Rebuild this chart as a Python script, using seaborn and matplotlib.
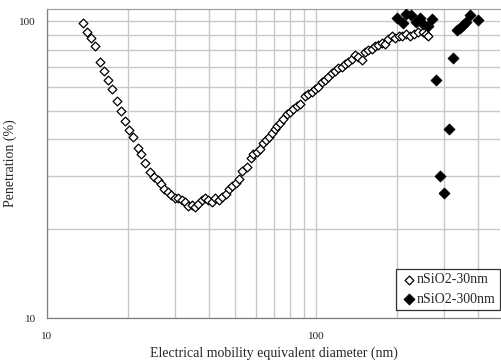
import matplotlib
matplotlib.use("Agg")
import matplotlib.pyplot as plt
import seaborn as sns
import pandas as pd
from matplotlib.ticker import LogLocator, FixedLocator, NullFormatter, FixedFormatter

# nSiO2-30nm : electrical mobility diameter (nm) and penetration (%)
d30 = [13.57, 14.04, 14.54, 15.08, 15.74, 16.29, 16.86, 17.45, 18.16, 18.79,
       19.55, 20.23, 20.94, 21.74, 22.42, 23.20, 24.15, 25.05, 25.79, 26.53,
       27.30, 28.10, 28.91, 29.92, 30.78, 31.68, 32.59, 33.53, 34.51, 35.49,
       36.52, 37.59, 38.67, 39.78, 40.96, 42.13, 43.59, 44.84, 46.16, 47.48,
       48.84, 50.29, 51.73, 53.21, 55.26, 57.18, 58.47, 60.20, 61.92, 63.38,
       65.18, 67.05, 68.61, 70.22, 71.80, 73.49, 75.20, 77.83, 80.05, 82.35,
       85.22, 87.21, 91.04, 93.63, 96.38, 99.15, 101.99, 104.99, 108.0, 111.1,
       114.4, 117.7, 121.1, 124.6, 128.2, 131.8, 135.7, 139.6, 143.6, 147.9,
       152.1, 156.4, 161.1, 165.7, 170.4, 175.5, 180.5, 185.7, 191.2, 196.7,
       202.7, 208.9, 216.1, 223.6, 231.4, 240.1, 249.3, 256.4, 261.5]
p30 = [99.0, 92.3, 87.7, 82.4, 72.8, 67.9, 63.3, 59.0, 53.8, 50.0,
       46.3, 43.0, 40.8, 37.3, 35.7, 33.4, 31.1, 29.9, 29.1, 28.2,
       27.3, 26.6, 25.9, 25.3, 25.3, 24.97, 24.6, 23.9, 24.1, 23.7,
       24.3, 24.97, 25.3, 24.97, 24.6, 25.3, 24.97, 25.6, 26.1, 27.3,
       27.9, 28.4, 29.4, 31.3, 32.2, 34.5, 35.7, 36.3, 37.0, 38.9,
       39.7, 40.8, 41.9, 43.5, 44.3, 45.5, 47.0, 48.6, 49.5, 50.8,
       51.7, 52.5, 55.9, 56.8, 57.8, 58.9, 60.1, 62.5, 63.3, 64.9,
       66.7, 68.0, 69.7, 70.2, 71.6, 72.9, 74.9, 76.8, 75.8, 73.9,
       78.8, 80.3, 80.9, 82.4, 83.0, 84.5, 84.1, 87.4, 89.0, 87.7,
       89.4, 89.0, 90.4, 89.4, 90.8, 91.8, 92.2, 90.8, 89.4]

# nSiO2-300nm
d300 = [200.5, 210.1, 216.1, 224.9, 234.4, 242.6, 250.9, 259.7, 269.2, 279.3,
        289.1, 299.1, 312.2, 322.3, 333.5, 343.1, 352.0, 361.2, 373.8, 399.2]
p300 = [102.6, 98.8, 106.0, 104.8, 99.2, 102.7, 97.7, 96.6, 102.1, 63.3,
        30.2, 26.3, 43.5, 75.2, 93.3, 94.7, 97.3, 99.6, 104.8, 100.8]

x_ticks = [10, 100]
y_ticks = [10, 100]
x_tick_labels = ["10", "100"]
y_tick_labels = ["10", "100"]
label_30 = "nSiO2-30nm"
label_300 = "nSiO2-300nm"
x_title = "Electrical mobility equivalent diameter (nm)"
y_title = "Penetration (%)"

df30 = pd.DataFrame({"d": d30, "p": p30})
df300 = pd.DataFrame({"d": d300, "p": p300})

sns.set_style("white")
plt.rcParams["font.family"] = ["Liberation Serif", "DejaVu Serif"]

fig = plt.figure(figsize=(5.01, 3.60), dpi=100)
ax = fig.add_axes([47 / 501, 1 - 318 / 360, 453 / 501, 309 / 360])

sns.scatterplot(data=df30, x="d", y="p", marker="D", s=20, facecolor="white",
                edgecolor="black", linewidth=0.9, label=label_30, ax=ax, zorder=3)
sns.scatterplot(data=df300, x="d", y="p", marker="D", s=32, color="black",
                edgecolor="black", linewidth=0.5, label=label_300, ax=ax, zorder=4)

ax.set_xscale("log")
ax.set_yscale("log")
ax.set_xlim(10, 483)
ax.set_ylim(10, 110)

ax.xaxis.set_major_locator(FixedLocator(x_ticks))
ax.xaxis.set_major_formatter(FixedFormatter(x_tick_labels))
ax.yaxis.set_major_locator(FixedLocator(y_ticks))
ax.yaxis.set_major_formatter(FixedFormatter(y_tick_labels))
ax.xaxis.set_minor_locator(LogLocator(base=10, subs=range(2, 10)))
ax.yaxis.set_minor_locator(LogLocator(base=10, subs=range(2, 10)))
ax.xaxis.set_minor_formatter(NullFormatter())
ax.yaxis.set_minor_formatter(NullFormatter())

ax.grid(True, which="both", color="#c8c8c8", linewidth=1.0)
ax.set_axisbelow(True)
ax.tick_params(which="major", length=4, width=0.8, color="#808080",
               labelsize=8)
ax.tick_params(axis="x", which="major", pad=6)
ax.tick_params(axis="y", which="major", pad=4)
ax.tick_params(which="minor", length=0)

ax.spines["right"].set_visible(False)
ax.spines["top"].set_color("#a0a0a0")
ax.spines["left"].set_color("#808080")
ax.spines["bottom"].set_color("#808080")
for s in ax.spines.values():
    s.set_linewidth(0.9)

ax.set_xlabel(x_title, fontsize=10, labelpad=4)
ax.set_ylabel(y_title, fontsize=10)
ax.yaxis.set_label_coords(-0.066, 0.5)

leg = ax.legend(loc="lower right", bbox_to_anchor=(1.0, 0.025), fontsize=10,
                frameon=True, fancybox=False, edgecolor="black",
                handletextpad=0.0, handlelength=1.2, borderpad=0.3,
                labelspacing=0.5, borderaxespad=0.0)
leg.get_frame().set_linewidth(0.9)

fig.savefig("out.png", dpi=100)
